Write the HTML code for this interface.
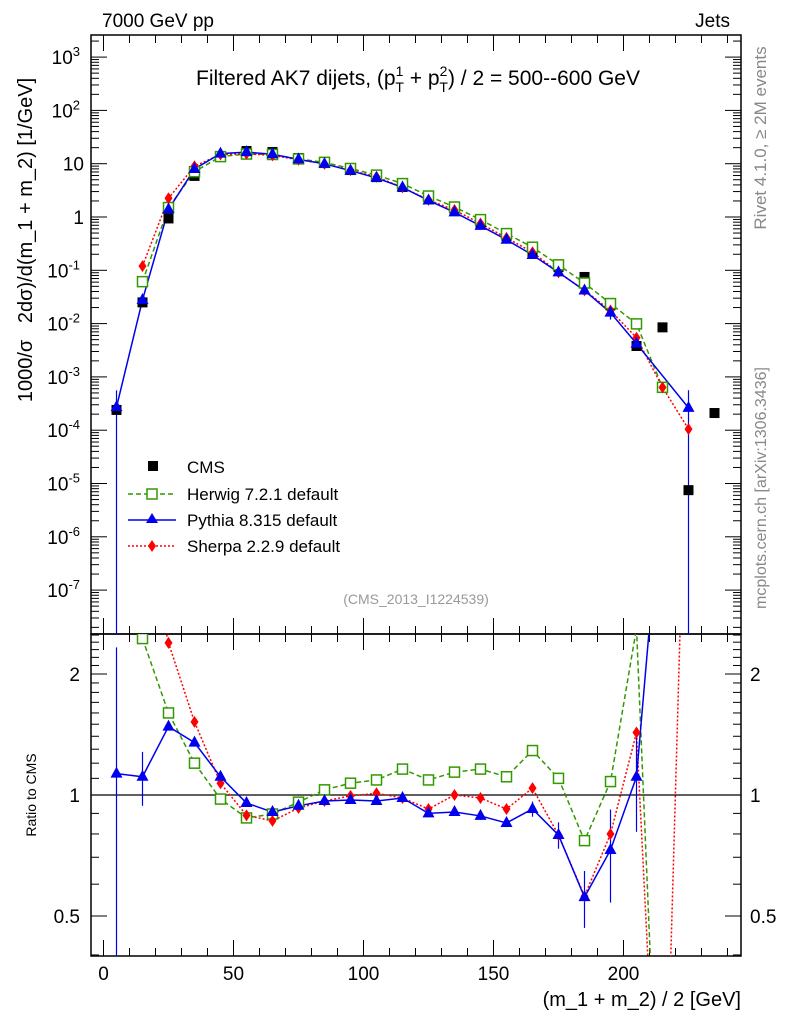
<!DOCTYPE html>
<html><head><meta charset="utf-8"><style>
html,body{margin:0;padding:0;background:#fff;overflow:hidden;width:786px;height:1024px}
svg{display:block}
svg text{font-family:"Liberation Sans",sans-serif}
</style></head><body>
<svg id="c" width="786" height="1024" viewBox="0 0 786 1024" xmlns="http://www.w3.org/2000/svg">
<text x="102" y="27" font-size="19">7000 GeV pp</text>
<text x="730" y="27" font-size="19" text-anchor="end">Jets</text>
<text x="418" y="85" font-size="21" text-anchor="middle">Filtered AK7 dijets, (p<tspan font-size="14" dy="-9">1</tspan><tspan font-size="14" dx="-8" dy="16">T</tspan><tspan dy="-7"> + p</tspan><tspan font-size="14" dy="-9">2</tspan><tspan font-size="14" dx="-8" dy="16">T</tspan><tspan dy="-7">) / 2 = 500--600 GeV</tspan></text>
<text transform="translate(32,240) rotate(-90)" font-size="20" text-anchor="middle">1000/σ&#160;&#160;&#160;2dσ)/d(m_1 + m_2) [1/GeV]</text>
<text transform="translate(36,795) rotate(-90)" font-size="14" text-anchor="middle">Ratio to CMS</text>
<text x="741" y="1006" font-size="20" text-anchor="end">(m_1 + m_2) / 2 [GeV]</text>
<text transform="translate(766,138) rotate(-90)" font-size="17" fill="#888" text-anchor="middle">Rivet 4.1.0, ≥ 2M events</text>
<text transform="translate(766,488) rotate(-90)" font-size="16" fill="#888" text-anchor="middle">mcplots.cern.ch [arXiv:1306.3436]</text>
<text x="416" y="604" font-size="14" fill="#999" text-anchor="middle">(CMS_2013_I1224539)</text>
<g id="g"></g>
<g id="legend">
<rect x="148" y="461" width="10" height="10" fill="#000"/>
<text x="187" y="473" font-size="17">CMS</text>
<line x1="128" y1="494" x2="176" y2="494" stroke="#339900" stroke-width="1.5" stroke-dasharray="5,3"/>
<rect x="147" y="489" width="10" height="10" fill="#fff" stroke="#339900" stroke-width="1.5"/>
<text x="187" y="500" font-size="17">Herwig 7.2.1 default</text>
<line x1="128" y1="520" x2="176" y2="520" stroke="#0000ee" stroke-width="1.5"/>
<path d="M152,513 L158,523 L146,523 Z" fill="#0000ee"/>
<text x="187" y="526" font-size="17">Pythia 8.315 default</text>
<line x1="128" y1="546" x2="176" y2="546" stroke="#ff0000" stroke-width="1.5" stroke-dasharray="2,2"/>
<path d="M152,540 L156,546 L152,552 L148,546 Z" fill="#ff0000"/>
<text x="187" y="552" font-size="17">Sherpa 2.2.9 default</text>
</g>
</svg>
<script>
const binCenters=[5,15,25,35,45,55,65,75,85,95,105,115,125,135,145,155,165,175,185,195,205,215,225,235];
const cmsValues=[2.4e-4,0.025,0.94,5.9,13.9,17.3,16.6,12.8,10.3,7.6,5.6,3.65,2.27,1.35,0.77,0.44,0.21,0.115,0.075,0.022,0.0038,0.0085,7.5e-6,2.1e-4];
const herwigRatio=[null,2.45,1.6,1.2,0.977,0.877,0.897,0.96,1.03,1.07,1.09,1.16,1.09,1.14,1.16,1.11,1.29,1.1,0.77,1.08,2.6,0.075,null,null];
const pythiaRatio=[1.13,1.11,1.48,1.35,1.11,0.955,0.907,0.94,0.966,0.972,0.966,0.983,0.9,0.907,0.887,0.852,0.923,0.795,0.557,0.73,1.11,null,35,null];
const sherpaRatio=[null,4.8,2.39,1.52,1.07,0.89,0.862,0.928,0.966,0.995,1.01,0.983,0.923,1.0,0.983,0.923,1.04,0.795,0.56,0.8,1.43,0.075,14,null];
const pythiaErr=[1.2,0.17,0.03,0.03,0.02,0.02,0.02,0.02,0.02,0.02,0.02,0.02,0.02,0.02,0.02,0.02,0.04,0.06,0.09,0.19,0.3,0,40,0];
const pythiaRatioErr=[1.2,0.17,0.03,0.03,0.02,0.02,0.02,0.02,0.02,0.02,0.02,0.02,0.02,0.02,0.02,0.02,0.04,0.06,0.09,0.19,0.3,0,0,0];
const xTicks=[0,50,100,150,200];
const yTicksMain=[3,2,1,0,-1,-2,-3,-4,-5,-6,-7];
const ratioTicks=[0.5,1,2];

const NS="http://www.w3.org/2000/svg";
const g=document.getElementById('g');
const L=91,R=741,T=35,M=634,B=956;
const X=v=>103.5+v*2.6;
const Y=v=>217-Math.log10(v)*53.3;
const RY=r=>795-Math.log2(r)*121;
function el(tag,a,name,parent){const e=document.createElementNS(NS,tag);for(const k in a)e.setAttribute(k,a[k]);


(parent||g).appendChild(e);return e;}
const defs=el('defs',{},'defs');
const c1=el('clipPath',{id:'cm'},'clip-main',defs);el('rect',{x:L,y:T,width:R-L,height:M-T},'clip-main-rect',c1);
const c2=el('clipPath',{id:'cr'},'clip-ratio',defs);el('rect',{x:L,y:M,width:R-L,height:B-M},'clip-ratio-rect',c2);
el('rect',{x:L,y:T,width:R-L,height:M-T,fill:'none',stroke:'#000','stroke-width':1.5},'main-frame');
el('rect',{x:L,y:M,width:R-L,height:B-M,fill:'none',stroke:'#000','stroke-width':1.5},'ratio-frame');
for(let v=0;v<=240;v+=10){const maj=v%50===0,len=maj?16:8,x=X(v);
 for(const [y0,d] of [[T,1],[M,-1],[M,1],[B,-1]]) el('line',{x1:x,y1:y0,x2:x,y2:y0+d*len,stroke:'#000','stroke-width':1},'x-tick');}
xTicks.forEach(v=>{const t=el('text',{x:X(v),y:980,'font-size':19,'text-anchor':'middle'},'x-tick-label');t.textContent=v;});
for(let p=-8;p<=3;p++){for(let m=1;m<=9;m++){const y=Y(m*Math.pow(10,p));if(y<T||y>M)continue;const len=m===1?16:8;
 el('line',{x1:L,y1:y,x2:L+len,y2:y,stroke:'#000'},'y-tick');el('line',{x1:R,y1:y,x2:R-len,y2:y,stroke:'#000'},'y-tick');}}
yTicksMain.forEach(p=>{const y=Y(Math.pow(10,p));
 const t=el('text',{x:p===0||p===1?84:80,y:y+7,'font-size':19,'text-anchor':'end'},'y-tick-label');
 if(p===0)t.textContent='1';else if(p===1)t.textContent='10';else{t.textContent='10';const s=document.createElementNS(NS,'tspan');s.setAttribute('font-size','13');s.setAttribute('dy','-8');s.textContent=p;t.appendChild(s);}});
for(let r=0.4;r<=2.55;r+=0.1){const y=RY(r);if(y<M||y>B)continue;const maj=[0.5,1,2].some(q=>Math.abs(q-r)<1e-6);const len=maj?16:8;
 el('line',{x1:L,y1:y,x2:L+len,y2:y,stroke:'#000'},'ratio-tick');el('line',{x1:R,y1:y,x2:R-len,y2:y,stroke:'#000'},'ratio-tick');}
ratioTicks.forEach(r=>{const y=RY(r);
 let t=el('text',{x:80,y:y+7,'font-size':19,'text-anchor':'end'},'ratio-tick-label-left');t.textContent=r;
 t=el('text',{x:750,y:y+7,'font-size':19},'ratio-tick-label-right');t.textContent=r;});
el('line',{x1:L,y1:RY(1),x2:R,y2:RY(1),stroke:'#000','stroke-width':1.2},'ratio-unity-line');
const series=[
 {name:'herwig',ratio:herwigRatio,color:'#339900',dash:'5,3',mk:'sq'},
 {name:'sherpa',ratio:sherpaRatio,color:'#ff0000',dash:'2,2',mk:'di'},
 {name:'pythia',ratio:pythiaRatio,color:'#0000ee',dash:'',mk:'tri'}];
function marker(kind,x,y,color,name,parent){
 if(kind==='sq')return el('rect',{x:x-5,y:y-5,width:10,height:10,fill:'#fff',stroke:color,'stroke-width':1.5},name,parent);
 if(kind==='tri')return el('path',{d:`M${x},${y-7}L${x+6},${y+4}L${x-6},${y+4}Z`,fill:color},name,parent);
 if(kind==='di')return el('path',{d:`M${x},${y-6}L${x+4},${y}L${x},${y+6}L${x-4},${y}Z`,fill:color},name,parent);
 return el('rect',{x:x-5,y:y-5,width:10,height:10,fill:'#000'},name,parent);}
const gm=el('g',{'clip-path':'url(#cm)'},'main-plot-area');
const gr=el('g',{'clip-path':'url(#cr)'},'ratio-plot-area');
series.forEach(s=>{
 let pm=[],pr=[];
 binCenters.forEach((b,i)=>{const r=s.ratio[i];if(r==null)return;const v=cmsValues[i]*r;pm.push([X(b),Y(v)]);pr.push([X(b),RY(r)]);});
 const la={fill:'none',stroke:s.color,'stroke-width':1.5};if(s.dash)la['stroke-dasharray']=s.dash;
 el('polyline',Object.assign({points:pm.map(p=>p.join(',')).join(' ')},la),s.name+'-main-line',gm);
 el('polyline',Object.assign({points:pr.map(p=>p.join(',')).join(' ')},la),s.name+'-ratio-line',gr);
 if(s.name==='pythia'){binCenters.forEach((b,i)=>{const r=s.ratio[i];if(r==null)return;
  const er=pythiaRatioErr[i];
  if(er) el('line',{x1:X(b),x2:X(b),y1:RY(r+Math.min(er,r*1.2)),y2:RY(Math.max(r-er,0.01)),stroke:s.color,'stroke-width':1.2},'pythia-ratio-error',gr);
  const e=pythiaErr[i];
  if(e){const v=cmsValues[i]*r;el('line',{x1:X(b),x2:X(b),y1:Y(v*(1+Math.min(e/r,1.2))),y2:Y(Math.max(v*(1-e/r),1e-9)),stroke:s.color,'stroke-width':1.2},'pythia-main-error',gm);}});}
});
binCenters.forEach((b,i)=>marker('cms',X(b),Y(cmsValues[i]),'#000','cms-point',gm));
series.forEach(s=>{binCenters.forEach((b,i)=>{const r=s.ratio[i];if(r==null)return;
 marker(s.mk,X(b),Y(cmsValues[i]*r),s.color,s.name+'-point',gm);
 marker(s.mk,X(b),RY(r),s.color,s.name+'-ratio-point',gr);});});
</script>
</body></html>
